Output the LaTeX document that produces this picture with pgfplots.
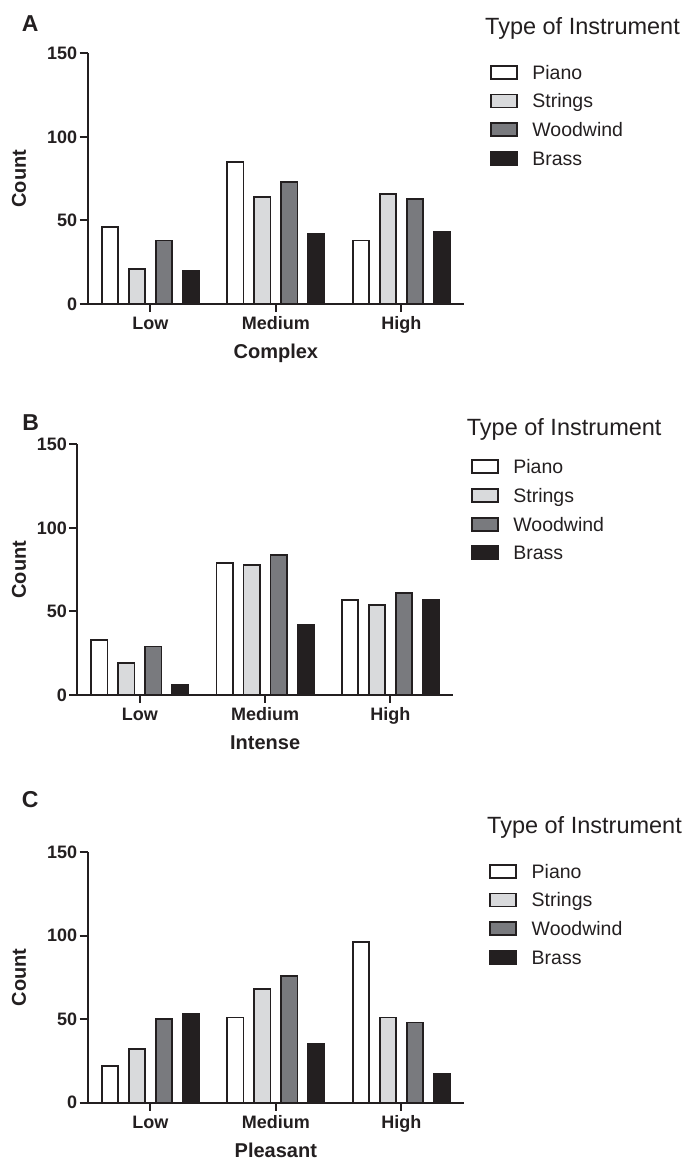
\documentclass[border=0pt]{standalone}
\usepackage{pgfplots}
\pgfplotsset{compat=1.18}
\usepackage{pgfplotstable}
\usepackage{fontspec}
\setmainfont{Liberation Sans}
\definecolor{ink}{RGB}{35,31,32}
\definecolor{cstr}{RGB}{217,218,220}
\definecolor{cwood}{RGB}{121,122,126}
\definecolor{cbrass}{RGB}{35,31,32}

\pgfplotstableread{
x piano strings woodwind brass
0 46 21 38 20
1 85 64 73 42
2 38 66 63 43
}\tableA
\pgfplotstableread{
x piano strings woodwind brass
0 33 19 29 6
1 79 78 84 42
2 57 54 61 57
}\tableB
\pgfplotstableread{
x piano strings woodwind brass
0 22 32 50 53
1 51 68 76 35
2 96 51 48 17
}\tableC

\pgfplotsset{
 panel/.style={
  scale only axis, height=250.7pt,
  anchor=south west,
  xmin=-0.5, xmax=2.5, ymin=0, ymax=150,
  xtick={0,1,2}, xticklabels={Low,Medium,High},
  ytick={0,50,100,150},
  axis x line=bottom, axis y line=left,
  axis line style={-, line width=1.9pt, ink},
  tick style={line width=1.9pt, ink},
  major tick length=8pt, tick align=outside,
  /pgf/number format/assume math mode=true,
  ticklabel style={font=\fontsize{18}{18}\selectfont\bfseries, text=ink, inner sep=0pt},
  yticklabel style={anchor=east, xshift=-2.3pt},
  xticklabel style={anchor=base, yshift=-17.3pt},
  label style={font=\fontsize{20}{20}\selectfont\bfseries, text=ink, inner sep=0pt},
  ylabel={Count},
  xlabel style={at={(axis description cs:0.5,0)}, anchor=base, yshift=-54.5pt},
  ybar, bar width=16.2pt,
  every axis plot/.append style={draw=ink, line width=1.9pt},
  legend image code/.code={\draw[#1, line width=1.9pt] (0pt,-6.5pt) rectangle (26.2pt,6.5pt); \path (40.6pt,0pt);},
  legend style={draw=none, fill=none, anchor=north west, inner sep=0pt, outer sep=0pt, row sep=13.9pt,
    font=\fontsize{19.5}{19.5}\selectfont, text=ink,
    nodes={inner sep=0pt, text height=14pt, text depth=0pt}},
  legend cell align=left,
 },
}

\newcommand{\bars}[1]{%
  \addplot[fill=white, bar shift=-40.5pt] table[x=x, y=piano] {#1};
  \addplot[fill=cstr, bar shift=-13.5pt] table[x=x, y=strings] {#1};
  \addplot[fill=cwood, bar shift=13.5pt] table[x=x, y=woodwind] {#1};
  \addplot[fill=cbrass, bar shift=40.5pt] table[x=x, y=brass] {#1};
  \legend{Piano,Strings,Woodwind,Brass}%
}

\begin{document}
\begin{tikzpicture}
\useasboundingbox (0,0) rectangle (687pt,-1160pt);

% Panel A
\begin{axis}[panel, width=376.3pt, at={(87.7pt,-304pt)},
  xlabel={Complex},
  ylabel style={at={(axis description cs:-0.1826,0.5)}, anchor=center},
  legend style={at={(axis description cs:1.0688,0.9545)}}]
\bars{\tableA}
\end{axis}
\node[anchor=base west, inner sep=0pt, font=\fontsize{23}{23}\selectfont\bfseries, text=ink] at (21.7pt,-31.7pt) {A};
\node[anchor=base west, inner sep=0pt, font=\fontsize{23.5}{23.5}\selectfont, text=ink] at (485pt,-34.3pt) {Type of Instrument};

% Panel B
\begin{axis}[panel, width=375.7pt, at={(77.3pt,-695pt)},
  xlabel={Intense},
  ylabel style={at={(axis description cs:-0.155,0.5)}, anchor=center},
  legend style={at={(axis description cs:1.0476,0.9412)}}]
\bars{\tableB}
\end{axis}
\node[anchor=base west, inner sep=0pt, font=\fontsize{23}{23}\selectfont\bfseries, text=ink] at (22.3pt,-430pt) {B};
\node[anchor=base west, inner sep=0pt, font=\fontsize{23.5}{23.5}\selectfont, text=ink] at (466.7pt,-435pt) {Type of Instrument};

% Panel C
\begin{axis}[panel, width=376.3pt, at={(87.7pt,-1102.7pt)},
  xlabel={Pleasant},
  ylabel style={at={(axis description cs:-0.1826,0.5)}, anchor=center},
  legend style={at={(axis description cs:1.067,0.9533)}}]
\bars{\tableC}
\end{axis}
\node[anchor=base west, inner sep=0pt, font=\fontsize{23}{23}\selectfont\bfseries, text=ink] at (21.7pt,-807pt) {C};
\node[anchor=base west, inner sep=0pt, font=\fontsize{23.5}{23.5}\selectfont, text=ink] at (487pt,-833.3pt) {Type of Instrument};
\end{tikzpicture}
\end{document}
